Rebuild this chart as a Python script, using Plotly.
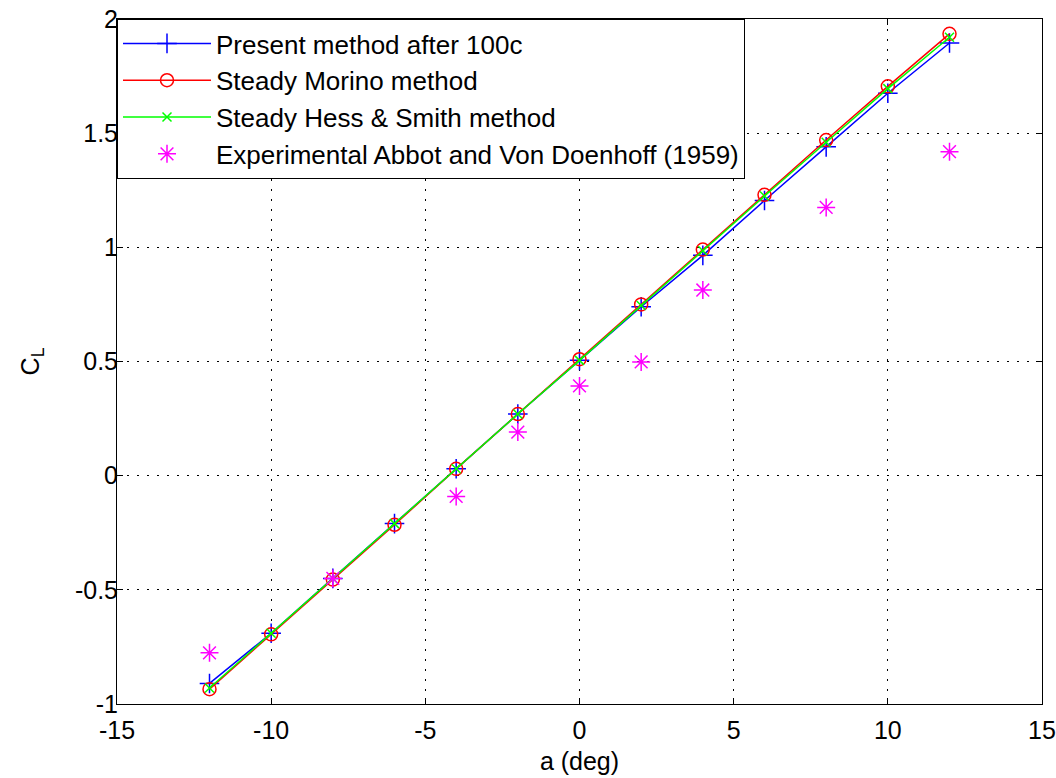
import plotly.graph_objects as go

alpha = [-12, -10, -8, -6, -4, -2, 0, 2, 4, 6, 8, 10, 12]
cl_present = [-0.91, -0.69, -0.45, -0.21, 0.03, 0.27, 0.505, 0.74, 0.965, 1.205, 1.44, 1.675, 1.895]
cl_morino = [-0.935, -0.695, -0.455, -0.215, 0.03, 0.27, 0.51, 0.75, 0.99, 1.23, 1.47, 1.705, 1.935]
cl_hess = [-0.93, -0.69, -0.45, -0.21, 0.03, 0.27, 0.505, 0.745, 0.985, 1.225, 1.46, 1.695, 1.92]
alpha_exp = [-12, -8, -4, -2, 0, 2, 4, 8, 12]
cl_exp = [-0.776, -0.45, -0.091, 0.191, 0.393, 0.498, 0.813, 1.175, 1.419]

FONT = "Liberation Sans, Arial, sans-serif"
FS = 25

fig = go.Figure()
fig.add_trace(go.Scatter(x=alpha, y=cl_present, mode="lines+markers", name="Present method after 100c",
                         legendgroup="a",
                         line=dict(color="#0000ff", width=1.5),
                         marker=dict(symbol="cross-thin-open", size=14, color="#0000ff",
                                     line=dict(color="#0000ff", width=1.5))))
fig.add_trace(go.Scatter(x=alpha, y=cl_morino, mode="lines+markers", name="Steady Morino method",
                         legendgroup="b",
                         line=dict(color="#ff0000", width=1.5),
                         marker=dict(symbol="circle-open", size=13, color="#ff0000",
                                     line=dict(color="#ff0000", width=1.5))))
fig.add_trace(go.Scatter(x=alpha, y=cl_hess, mode="lines+markers", name="Steady Hess & Smith method",
                         legendgroup="c",
                         line=dict(color="#00ff00", width=1.5),
                         marker=dict(symbol="x-thin-open", size=9, color="#00ff00",
                                     line=dict(color="#00ff00", width=1.5))))
fig.add_trace(go.Scatter(x=alpha_exp, y=cl_exp, mode="markers",
                         name="Experimental Abbot and Von Doenhoff (1959)",
                         legendgroup="d",
                         marker=dict(symbol="asterisk-open", size=15, color="#ff00ff",
                                     line=dict(color="#ff00ff", width=1.5))))

axis_common = dict(
    showline=True, linecolor="black", linewidth=1, mirror="ticks",
    ticks="inside", ticklen=6, tickcolor="black", tickwidth=1,
    showgrid=True, gridcolor="black", gridwidth=1, griddash="2px,8px",
    zeroline=False, automargin=False,
    tickfont=dict(family=FONT, size=FS, color="black"),
)

fig.update_layout(
    width=1056, height=778,
    margin=dict(l=117, r=14, t=19, b=74),
    paper_bgcolor="white", plot_bgcolor="white",
    font=dict(family=FONT, color="black"),
    showlegend=True,
    legend=dict(x=0, y=1, xanchor="left", yanchor="top",
                bgcolor="white", bordercolor="black", borderwidth=1,
                font=dict(family=FONT, size=26, color="black"),
                tracegroupgap=0, itemwidth=88),
    xaxis=dict(range=[-15, 15], tickmode="array", tickvals=[-15, -10, -5, 0, 5, 10, 15],
               ticktext=["-15", "-10", "-5", "0", "5", "10", "15"],
               ticklabelstandoff=4,
               title=dict(text="a (deg)", font=dict(family=FONT, size=FS, color="black"), standoff=9),
               **axis_common),
    yaxis=dict(range=[-1, 2], tickmode="array", tickvals=[-1, -0.5, 0, 0.5, 1, 1.5, 2],
               ticktext=["-1", "-0.5", "0", "0.5", "1", "1.5", "2"],
               ticklabelstandoff=-7,
               title=dict(text="C<sub>L</sub>", font=dict(family=FONT, size=FS, color="black"), standoff=28),
               **axis_common),
)

fig.write_html("out.html")
